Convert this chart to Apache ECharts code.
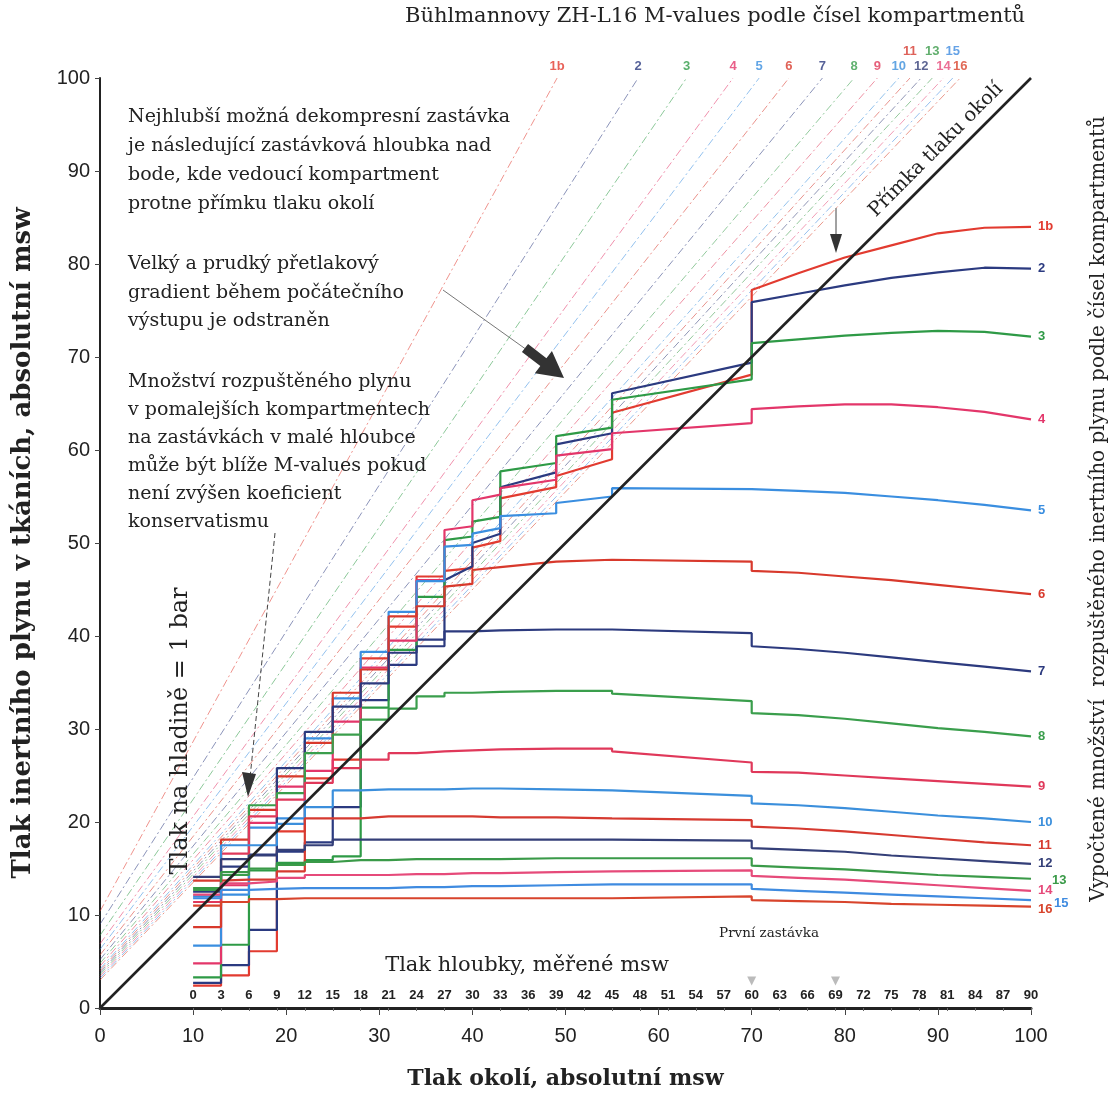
<!DOCTYPE html>
<html><head><meta charset="utf-8">
<script src="https://cdn.jsdelivr.net/npm/echarts@6/dist/echarts.min.js"></script>
<style>html,body{margin:0;padding:0;background:#fff}#c{width:1116px;height:1094px}</style>
</head><body><div id="c"></div>
<script>
// ambient pressure breakpoints (x) shared by all compartment traces
const ambient = [10,13, 13,16, 16,19, 19,22, 22,25, 25,28, 28,31, 31,34, 34,37, 37,40, 40,43, 43,49, 49,55, 55,70, 70,75,80,85,90,95,100];
// tissue inert gas pressure per compartment (msw), aligned with ambient[]
const c1b = [2.4,2.4, 3.5,3.5, 6.1,6.1, 19.0,19.0, 24.7,24.7, 26.7,26.7, 37.6,37.6, 41.0,41.0, 46.4,46.4, 47.0,47.3, 49.5,50.2, 54.8,56.0, 57.2,59.0, 64.0,68.1, 77.2,79.0,80.7,82.0,83.3,83.9,84.0];
const c2  = [2.7,2.7, 4.6,4.6, 8.4,8.4, 16.8,16.8, 17.8,17.8, 21.6,21.6, 33.1,33.1, 36.9,36.9, 39.6,39.6, 46.0,47.5, 50.0,51.0, 56.0,57.6, 60.6,61.8, 66.1,69.4, 75.9,76.8,77.7,78.5,79.1,79.6,79.5];
const c3  = [3.3,3.3, 6.8,6.8, 14.8,14.8, 15.6,15.6, 15.9,15.9, 16.3,16.3, 32.3,32.3, 38.5,38.5, 44.2,44.2, 50.3,50.7, 52.3,52.8, 57.7,58.6, 61.5,62.4, 65.4,67.6, 71.5,71.9,72.3,72.6,72.8,72.7,72.2];
const c4  = [4.8,4.8, 13.2,13.2, 19.9,19.9, 23.8,23.8, 25.5,25.5, 30.8,30.8, 36.6,36.6, 39.5,39.5, 46.0,46.0, 51.4,51.8, 54.6,55.2, 55.9,56.8, 59.4,60.1, 61.8,62.9, 64.4,64.7,64.9,64.9,64.6,64.1,63.3];
const c5  = [6.7,6.7, 12.2,12.2, 19.4,19.4, 20.4,20.4, 29.0,29.0, 33.3,33.3, 38.3,38.3, 42.6,42.6, 45.9,45.9, 49.6,49.8, 51.0,51.6, 52.9,53.2, 54.3,55.0, 55.9,55.8, 55.6,55.6,55.4,55.0,54.6,54.1,53.5];
const c6  = [8.7,8.7, 18.1,18.1, 21.3,21.3, 24.9,24.9, 28.5,28.5, 33.9,33.9, 36.4,36.4, 42.1,42.1, 43.2,43.2, 45.3,45.6, 47.1,47.4, 47.6,48.0, 48.2,48.2, 48.2,48.0, 47.0,46.8,46.4,46.0,45.5,45.0,44.5];
const c7  = [12.5,12.5, 15.2,15.2, 16.5,16.5, 25.8,25.8, 29.7,29.7, 32.4,32.4, 34.9,34.9, 38.2,38.2, 38.9,38.9, 40.5,40.5, 40.6,40.6, 40.6,40.7, 40.7,40.7, 40.7,40.3, 38.9,38.6,38.2,37.7,37.2,36.7,36.2];
const c8  = [12.7,12.7, 14.3,14.3, 21.8,21.8, 23.1,23.1, 27.4,27.4, 29.4,29.4, 31.0,31.0, 32.2,32.2, 33.5,33.5, 33.9,33.9, 34.0,34.0, 34.1,34.1, 34.1,34.1, 33.8,33.0, 31.7,31.5,31.1,30.6,30.1,29.7,29.2];
const c9  = [11.4,11.4, 16.6,16.6, 20.6,20.6, 22.4,22.4, 24.2,24.2, 25.8,25.8, 26.7,26.7, 27.4,27.4, 27.6,27.6, 27.7,27.7, 27.8,27.8, 27.9,27.9, 27.9,27.9, 27.6,26.4, 25.4,25.3,25.0,24.7,24.4,24.1,23.8];
const c10 = [12.0,12.0, 17.5,17.5, 17.5,17.5, 19.8,19.8, 21.6,21.6, 23.4,23.4, 23.5,23.5, 23.5,23.5, 23.5,23.5, 23.6,23.6, 23.6,23.6, 23.5,23.5, 23.4,23.4, 23.2,22.8, 22.0,21.8,21.5,21.1,20.7,20.4,20.0];
const c11 = [13.7,13.7, 13.8,13.8, 13.8,13.8, 14.7,14.7, 20.4,20.4, 20.4,20.4, 20.6,20.6, 20.6,20.6, 20.6,20.6, 20.6,20.6, 20.5,20.5, 20.5,20.5, 20.4,20.4, 20.3,20.2, 19.5,19.3,19.0,18.6,18.2,17.8,17.5];
const c12 = [14.1,14.1, 16.0,16.0, 16.4,16.4, 17.0,17.0, 17.5,17.5, 18.1,18.1, 18.1,18.1, 18.1,18.1, 18.1,18.1, 18.1,18.1, 18.1,18.1, 18.1,18.1, 18.1,18.1, 18.1,18.0, 17.2,17.0,16.8,16.4,16.1,15.8,15.5];
const c13 = [12.9,12.9, 14.6,14.6, 15.0,15.0, 15.4,15.4, 15.7,15.7, 15.9,15.9, 15.9,15.9, 16.0,16.0, 16.0,16.0, 16.0,16.0, 16.0,16.0, 16.1,16.1, 16.1,16.1, 16.2,16.1, 15.3,15.1,14.9,14.6,14.3,14.1,13.9];
const c14 = [12.2,12.2, 13.4,13.4, 13.6,13.6, 14.0,14.0, 14.3,14.3, 14.3,14.3, 14.3,14.3, 14.4,14.4, 14.4,14.4, 14.5,14.5, 14.5,14.5, 14.6,14.6, 14.7,14.7, 14.8,14.8, 14.2,14.0,13.8,13.5,13.2,12.9,12.6];
const c15 = [11.8,11.8, 12.7,12.7, 12.8,12.8, 12.9,12.9, 12.9,12.9, 12.9,12.9, 12.9,12.9, 13.0,13.0, 13.0,13.0, 13.1,13.1, 13.1,13.1, 13.2,13.2, 13.3,13.3, 13.4,13.3, 12.8,12.6,12.4,12.2,12.0,11.8,11.6];
const c16 = [11.0,11.0, 11.4,11.4, 11.7,11.7, 11.8,11.8, 11.8,11.8, 11.8,11.8, 11.8,11.8, 11.8,11.8, 11.8,11.8, 11.8,11.8, 11.8,11.8, 11.8,11.8, 11.8,11.8, 11.9,12.0, 11.6,11.5,11.4,11.2,11.1,11.0,10.9];

const names = ['1b','2','3','4','5','6','7','8','9','10','11','12','13','14','15','16'];
// M-value lines: value at ambient 0 and ambient pressure where they reach 100
const mStart = [10.4, 9.0, 7.8, 6.9, 6.3, 5.7, 5.2, 4.8, 4.5, 4.2, 4.0, 3.8, 3.6, 3.4, 3.2, 3.0];
const mTopX  = [49.1, 57.8, 63.0, 68.0, 70.8, 74.0, 77.6, 81.0, 83.5, 85.8, 87.0, 88.2, 89.4, 90.6, 91.6, 92.4];
const ambientEnds = [0, 100];
const depthTicks = [0,3,6,9,12,15,18,21,24,27,30,33,36,39,42,45,48,51,54,57,60,63,66,69,72,75,78,81,84,87,90];
const firstStopMarks = [70, 79];

const colors = ['#e23b30','#2b3a80','#2e9a46','#e3366a','#3a8ee0','#d8392c','#2c3a7e','#3a9e4c','#e0385a','#3b8fdc','#d63a30','#343f78','#3a9a48','#e64a7a','#3f8be0','#d8442c'];
const upperRow = {'11':1,'13':1,'15':1};
const endOffsets = {'13':[14,2],'15':[16,3],'16':[0,3],'14':[0,0]};

const serif = "'DejaVu Serif',serif";
const sans = "'Liberation Sans Narrow','Arial Narrow','Liberation Sans',Arial,sans-serif";

const comps = [c1b,c2,c3,c4,c5,c6,c7,c8,c9,c10,c11,c12,c13,c14,c15,c16];

const chart = echarts.init(document.getElementById('c'), null, {renderer:'canvas'});

const mSeries = names.map((n,i)=>({
  type:'line', silent:true, z:1, symbol:'none', animation:false,
  data:[[0, mStart[i]], [mTopX[i], 100]],
  lineStyle:{color:colors[i], width:1, type:[8,3,2,3], opacity:0.55}
}));

const stepSeries = comps.map((vals,i)=>({
  type:'line', name:names[i], z:4, symbol:'none', animation:false,
  data: ambient.map((x,j)=>[x, vals[j]]),
  lineStyle:{color:colors[i], width:2.2},
  endLabel:{show:true, formatter:names[i], color:colors[i], fontSize:13, fontWeight:'bold', fontFamily:sans, distance:7, offset:endOffsets[names[i]]||[0,0]}
}));

const topLabels = {
  type:'scatter', z:6, clip:false, symbolSize:0, silent:true, animation:false,
  data: names.map((n,i)=>({value:[mTopX[i],100], label:{show:true, position:'top', distance: upperRow[n]?20:5, formatter:n, color:colors[i]}})),
  label:{fontSize:13, fontWeight:'bold', fontFamily:sans}
};

const ambientSeries = {
  type:'line', z:5, symbol:'none', silent:true, animation:false,
  data: ambientEnds.map(v=>[v,v]),
  lineStyle:{color:'#222', width:2.6}
};

const stopMarks = {
  type:'scatter', z:6, clip:false, silent:true, animation:false,
  data: firstStopMarks.map(x=>[x, 2.9]),
  symbol:'triangle', symbolRotate:180, symbolSize:[9,9],
  itemStyle:{color:'#aaa'}
};

// big arrow polygon helper (layout only)
function arrowPoly(tx,ty,hx,hy,sw,hw,hl){
  const dx=hx-tx, dy=hy-ty, L=Math.hypot(dx,dy), ux=dx/L, uy=dy/L, nx=-uy, ny=ux;
  const bx=hx-ux*hl, by=hy-uy*hl;
  return [[tx+nx*sw,ty+ny*sw],[bx+nx*sw,by+ny*sw],[bx+nx*hw,by+ny*hw],[hx,hy],[bx-nx*hw,by-ny*hw],[bx-nx*sw,by-ny*sw],[tx-nx*sw,ty-ny*sw]];
}

const txt = (x,y,text,opts)=>({type:'text', x, y, silent:true, z:10, style:Object.assign({text, fill:'#222', font:'19px '+serif, textAlign:'left', textVerticalAlign:'top'}, opts||{})});

const graphics = [
  {type:'text', x:405, y:6, silent:true, style:{text:'Bühlmannovy ZH-L16 M-values podle čísel kompartmentů', fill:'#222', font:'21px '+serif}},
  txt(128,103,'Nejhlubší možná dekompresní zastávka\nje následující zastávková hloubka nad\nbode, kde vedoucí kompartment\nprotne přímku tlaku okolí',{lineHeight:29}),
  txt(128,250,'Velký a prudký přetlakový\ngradient během počátečního\nvýstupu je odstraněn',{lineHeight:28.5}),
  txt(128,368,'Množství rozpuštěného plynu\nv pomalejších kompartmentech\nna zastávkách v malé hloubce\nmůže být blíže M-values pokud\nnení zvýšen koeficient\nkonservatismu',{lineHeight:28}),
  {type:'text', x:936, y:150, rotation:Math.PI/4, silent:true, z:10, style:{text:'Přímka tlaku okolí', font:'19.5px '+serif, fill:'#222', textAlign:'center', textVerticalAlign:'middle'}},
  {type:'text', x:181, y:731, rotation:Math.PI/2, silent:true, z:10, style:{text:'Tlak na hladině = 1 bar', font:'24px '+serif, fill:'#222', textAlign:'center', textVerticalAlign:'middle'}},
  {type:'text', x:1099, y:509, rotation:Math.PI/2, silent:true, z:10, style:{text:'Vypočtené množství  rozpuštěného inertního plynu podle čísel kompartmentů', font:'20px '+serif, fill:'#222', textAlign:'center', textVerticalAlign:'middle'}},
  {type:'text', x:527, y:966, silent:true, z:10, style:{text:'Tlak hloubky, měřené msw', font:'21px '+serif, fill:'#222', textAlign:'center', textVerticalAlign:'middle'}},
  {type:'text', x:769, y:933, silent:true, z:10, style:{text:'První zastávka', font:'13.5px '+serif, fill:'#222', textAlign:'center', textVerticalAlign:'middle'}},
  // arrow to shallow stop
  {type:'line', silent:true, z:10, shape:{x1:275,y1:533,x2:250,y2:778}, style:{stroke:'#444', lineWidth:1, lineDash:[5,3]}},
  {type:'polygon', silent:true, z:10, shape:{points:[[242,772],[256,774],[248,797]]}, style:{fill:'#333'}},
  // arrow to removed gradient
  {type:'line', silent:true, z:10, shape:{x1:443,y1:290,x2:527,y2:350}, style:{stroke:'#777', lineWidth:1}},
  {type:'polygon', silent:true, z:10, shape:{points:arrowPoly(525,348,564,378,5,14,26)}, style:{fill:'#333'}},
  // arrow to crossing point
  {type:'line', silent:true, z:10, shape:{x1:836,y1:208,x2:836,y2:240}, style:{stroke:'#444', lineWidth:1}},
  {type:'polygon', silent:true, z:10, shape:{points:[[830,234],[842,234],[836,253]]}, style:{fill:'#333'}}
];

chart.setOption({
  animation:false,
  backgroundColor:'#fff',
  grid:{left:100, right:85, top:78, bottom:86, containLabel:false, outerBoundsMode:'none'},
  xAxis:[
    {type:'value', min:0, max:100, interval:10,
     name:'Tlak okolí, absolutní msw', nameLocation:'middle', nameGap:60,
     nameTextStyle:{fontFamily:serif, fontWeight:'bold', fontSize:22, color:'#222'},
     axisLine:{lineStyle:{color:'#222', width:3}},
     axisTick:{show:true, length:7, lineStyle:{color:'#444', width:1}},
     axisLabel:{fontFamily:sans, fontSize:20, color:'#222', margin:18},
     splitLine:{show:false}},
    {type:'value', min:-10, max:90, position:'bottom',
     axisLine:{show:false},
     axisTick:{show:true, inside:false, length:3, customValues:depthTicks, lineStyle:{color:'#666'}},
     axisLabel:{inside:true, customValues:depthTicks, fontFamily:sans, fontSize:13, fontWeight:'bold', color:'#222', margin:6},
     splitLine:{show:false}}
  ],
  yAxis:[
    {type:'value', min:0, max:100, interval:10,
     name:'Tlak inertního plynu v tkáních, absolutní msw', nameLocation:'middle', nameGap:64,
     nameTextStyle:{fontFamily:serif, fontWeight:'bold', fontSize:26, color:'#222'},
     axisLine:{show:true, lineStyle:{color:'#222', width:2}},
     axisTick:{show:true, length:5, lineStyle:{color:'#444'}},
     axisLabel:{fontFamily:sans, fontSize:20, color:'#222', margin:10},
     splitLine:{show:false}}
  ],
  series:[...mSeries, ambientSeries, ...stepSeries, topLabels, stopMarks],
  graphic:graphics
});
</script></body></html>
